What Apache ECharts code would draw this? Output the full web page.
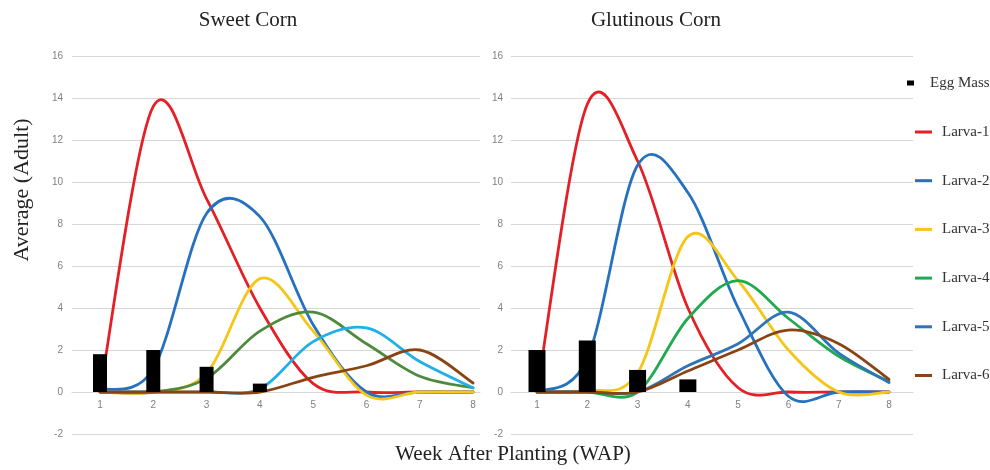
<!DOCTYPE html>
<html>
<head>
<meta charset="utf-8">
<script src="https://cdn.jsdelivr.net/npm/echarts@6/dist/echarts.min.js"></script>
<style>
html,body{margin:0;padding:0;background:#fff;}
#chart{width:990px;height:470px;}
</style>
</head>
<body>
<div id="chart"></div>
<script>
// ---- data ----
var weeks = [1, 2, 3, 4, 5, 6, 7, 8];
var yTicks = [-2, 0, 2, 4, 6, 8, 10, 12, 14, 16];

var sweetEgg = [1.8, 2.0, 1.2, 0.4, 0, 0, 0, 0];
var sweetL1 = [0, 13.6, 9.2, 4.0, 0.4, 0, 0, 0];
var sweetL2 = [0.1, 1.1, 8.5, 8.35, 3.2, 0, 0, 0];
var sweetL3 = [0, 0, 0.9, 5.4, 2.9, -0.15, 0, 0];
var sweetL4 = [0, 0, 0.65, 2.9, 3.8, 2.3, 0.75, 0.2];
var sweetL5 = [0, 0, 0, 0.15, 2.4, 3.05, 1.45, 0.2];
var sweetL6 = [0, 0, 0, 0, 0.7, 1.25, 2.0, 0.43];

var glutEgg = [2.0, 2.45, 1.05, 0.6, 0, 0, 0, 0];
var glutL1 = [0, 13.7, 11.0, 4.0, 0.2, 0, 0, 0];
var glutL2 = [0, 1.6, 10.8, 9.5, 4.0, -0.2, 0, 0];
var glutL3 = [0, 0.05, 0.9, 7.4, 5.3, 2.0, 0, 0];
var glutL4 = [0, 0, 0, 3.5, 5.3, 3.5, 1.7, 0.5];
var glutL5 = [0, 0, 0, 1.25, 2.3, 3.8, 1.85, 0.45];
var glutL6 = [0, 0, 0, 1.0, 2.0, 2.95, 2.3, 0.6];

var larvaNames = ['Larva-1', 'Larva-2', 'Larva-3', 'Larva-4', 'Larva-5', 'Larva-6'];
var panelTitles = ['Sweet Corn', 'Glutinous Corn'];

// ---- styling ----
var sweetColors = ['#e41f26', '#2471c0', '#f5c518', '#4e8a3c', '#1fb0e8', '#8a4414'];
var glutColors  = ['#e41f26', '#2471c0', '#f5c518', '#1faa4f', '#2f73b8', '#8a4414'];
var serif = '"Liberation Serif", "Times New Roman", serif';
var gridColor = '#d6d6d6';

function pair(vals) { return weeks.map(function (w, i) { return [w, vals[i]]; }); }

// Excel-style (Catmull-Rom) smoothed line drawn through the axes' scales
function curve(name, idx, vals, color) {
  return {
    type: 'custom',
    name: name,
    xAxisIndex: idx,
    yAxisIndex: idx,
    data: pair(vals),
    encode: { x: 0, y: 1 },
    itemStyle: { color: color },
    silent: true,
    renderItem: function (params, api) {
      if (params.dataIndex !== 0) return null;
      var pts = weeks.map(function (w, i) { return api.coord([w, vals[i]]); });
      var d = 'M' + pts[0][0] + ',' + pts[0][1];
      for (var i = 0; i < pts.length - 1; i++) {
        var p0 = pts[i - 1] || pts[i], p1 = pts[i], p2 = pts[i + 1], p3 = pts[i + 2] || pts[i + 1];
        var c1x = p1[0] + (p2[0] - p0[0]) / 6, c1y = p1[1] + (p2[1] - p0[1]) / 6;
        var c2x = p2[0] - (p3[0] - p1[0]) / 6, c2y = p2[1] - (p3[1] - p1[1]) / 6;
        d += ' C' + c1x + ',' + c1y + ' ' + c2x + ',' + c2y + ' ' + p2[0] + ',' + p2[1];
      }
      return {
        type: 'path',
        shape: { pathData: d },
        style: { fill: 'none', stroke: color, lineWidth: 2.8, lineJoin: 'round', lineCap: 'round' }
      };
    }
  };
}

function xAxisCfg(idx, min, max) {
  return {
    type: 'value', gridIndex: idx, min: min, max: max, offset: -42,
    axisLine: { show: true, onZero: false, lineStyle: { color: gridColor, width: 1 } },
    axisTick: { show: false },
    splitLine: { show: false },
    axisLabel: { customValues: weeks, margin: 8, color: '#808080', fontSize: 10, fontFamily: '"Liberation Sans", Arial, sans-serif' }
  };
}
function yAxisCfg(idx, margin) {
  return {
    type: 'value', gridIndex: idx, min: yTicks[0], max: yTicks[yTicks.length - 1], interval: 2,
    axisLine: { show: false }, axisTick: { show: false },
    splitLine: { show: true, lineStyle: { color: gridColor, width: 1 } },
    axisLabel: { margin: margin, color: '#808080', fontSize: 10, fontFamily: '"Liberation Sans", Arial, sans-serif' }
  };
}

var series = [
  { type: 'bar', name: 'Egg Mass', xAxisIndex: 0, yAxisIndex: 0, data: pair(sweetEgg), barWidth: 14, itemStyle: { color: '#000' }, silent: true },
  { type: 'bar', name: 'Egg Mass', xAxisIndex: 1, yAxisIndex: 1, data: pair(glutEgg), barWidth: 17, itemStyle: { color: '#000' }, silent: true }
];
var sweetSets = [sweetL1, sweetL2, sweetL3, sweetL4, sweetL5, sweetL6];
var glutSets = [glutL1, glutL2, glutL3, glutL4, glutL5, glutL6];
for (var k = 0; k < 6; k++) series.push(curve(larvaNames[k], 1, glutSets[k], glutColors[k]));
for (var k2 = 0; k2 < 6; k2++) series.push(curve(larvaNames[k2], 0, sweetSets[k2], sweetColors[k2]));

var legendText = { fontFamily: serif, fontSize: 15, color: '#333', lineHeight: 15 };

var option = {
  backgroundColor: '#fff',
  animation: false,
  title: [
    { text: panelTitles[0], left: 248, top: 10, textAlign: 'center', padding: 0,
      textStyle: { fontFamily: serif, fontSize: 21, fontWeight: 'normal', color: '#222' } },
    { text: panelTitles[1], left: 656, top: 10, textAlign: 'center', padding: 0,
      textStyle: { fontFamily: serif, fontSize: 21, fontWeight: 'normal', color: '#222' } },
    { text: 'Week After Planting (WAP)', left: 513, top: 444, textAlign: 'center', padding: 0,
      textStyle: { fontFamily: serif, fontSize: 21, fontWeight: 'normal', color: '#222' } }
  ],
  graphic: [
    { type: 'text', x: 22, y: 190, rotation: Math.PI / 2,
      style: { text: 'Average (Adult)', font: '22px ' + serif, fill: '#222', align: 'center', verticalAlign: 'middle' } }
  ],
  grid: [
    { left: 72, width: 408, top: 56, height: 378 },
    { left: 511, width: 402, top: 56, height: 378 }
  ],
  xAxis: [xAxisCfg(0, 0.475, 8.13), xAxisCfg(1, 0.483, 8.477)],
  yAxis: [yAxisCfg(0, 9), yAxisCfg(1, 8)],
  legend: [
    { orient: 'vertical', left: 907, top: 75.5, padding: 0, selectedMode: false,
      itemWidth: 7, itemHeight: 5,
      textStyle: Object.assign({ padding: [0, 0, 0, 11] }, legendText),
      data: [{ name: 'Egg Mass', icon: 'rect', itemStyle: { color: '#000' } }] },
    { orient: 'vertical', left: 915, top: 124.5, padding: 0, selectedMode: false,
      itemWidth: 17, itemHeight: 3, itemGap: 33.7,
      textStyle: Object.assign({ padding: [0, 0, 0, 5] }, legendText),
      data: larvaNames.map(function (n, i) { return { name: n, icon: 'rect', itemStyle: { color: glutColors[i] } }; }) }
  ],
  series: series
};

var chart = echarts.init(document.getElementById('chart'), null, { renderer: 'canvas' });
chart.setOption(option);
</script>
</body>
</html>
